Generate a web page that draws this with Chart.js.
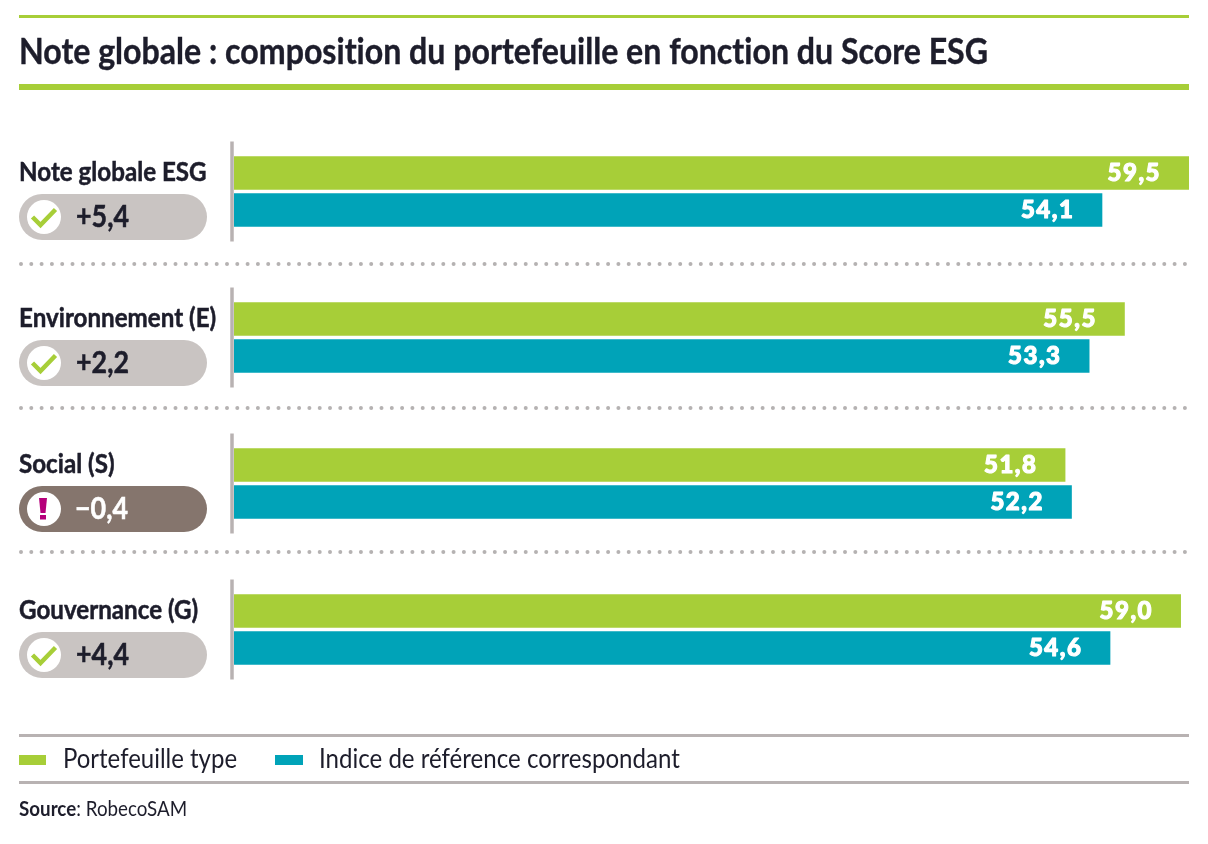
<!DOCTYPE html>
<html lang="fr">
<head>
<meta charset="utf-8">
<title>Note globale ESG</title>
<script src="https://cdn.jsdelivr.net/npm/chart.js@4"></script>
<style>
  html, body { margin: 0; background: #fff; }
  #page { position: relative; width: 1208px; height: 844px; overflow: hidden; color: #1d1d2b;
    font-family: Lato, sans-serif; font-variant-ligatures: none; }
  #page canvas { position: absolute; left: 0; top: 0; }
  .rule { position: absolute; left: 19px; width: 1170px; }
  .fit { position: absolute; white-space: nowrap; transform-origin: 0 50%; }
  #title { left: 19px; top: 28px; font-size: 36px; font-weight: bold; -webkit-text-stroke: 0.4px #1d1d2b; }
  .swatch { position: absolute; top: 755px; height: 10px; }
  .legend-text { top: 741px; font-size: 27px; }
  #source { left: 19px; top: 795px; font-size: 21px; }
</style>
</head>
<body>
<div id="page">
  <canvas id="esgChart" width="1208" height="844"></canvas>
  <div class="rule" style="top:15px;height:3px;background:#a7ce38"></div>
  <div class="fit" id="title" data-w="969">Note globale : composition du portefeuille en fonction du Score ESG</div>
  <div class="rule" style="top:84px;height:6px;background:#a7ce38"></div>
  <div class="rule" style="top:734px;height:3px;background:#b8b2b2"></div>
  <div class="swatch" style="left:19px;width:27px;background:#a7ce38"></div>
  <div class="fit legend-text" id="legendA" data-w="174" style="left:63px"></div>
  <div class="swatch" style="left:275px;width:28px;background:#00a3b8"></div>
  <div class="fit legend-text" id="legendB" data-w="361" style="left:319px"></div>
  <div class="rule" style="top:781px;height:3px;background:#b8b2b2"></div>
  <div class="fit" id="source" data-w="168"><b>Source</b>: RobecoSAM</div>
</div>
<script>
const categories = ['Note globale ESG', 'Environnement (E)', 'Social (S)', 'Gouvernance (G)'];
const seriesNames = ['Portefeuille type', 'Indice de référence correspondant'];
const portefeuille = [59.5, 55.5, 51.8, 59.0];
const indice = [54.1, 53.3, 52.2, 54.6];
const ecarts = ['+5,4', '+2,2', '−0,4', '+4,4'];

const GREEN = '#a7ce38';
const TEAL = '#00a3b8';
const INK = '#1d1d2b';
const NARROW = 0.895; // the original face is condensed, Lato is squeezed to match
const separators = [264, 408, 552];

document.getElementById('legendA').textContent = seriesNames[0];
document.getElementById('legendB').textContent = seriesNames[1];

// squeeze the html texts to the width they have in the original
function fitTexts() {
  document.querySelectorAll('.fit').forEach(el => {
    el.style.transform = 'scaleX(' + el.dataset.w / el.offsetWidth + ')';
  });
}
fitTexts();
document.fonts.ready.then(fitTexts);

function narrowText(ctx, txt, x, y) {
  ctx.save();
  ctx.translate(x, y);
  ctx.scale(NARROW, 1);
  ctx.fillText(txt, 0, 0);
  ctx.lineWidth = 0.5;
  ctx.strokeStyle = ctx.fillStyle;
  ctx.strokeText(txt, 0, 0);
  ctx.restore();
}

// axis segments, dotted separators, category names and the pills on the left
const decorations = {
  id: 'decorations',
  beforeDatasetsDraw(chart) {
    const ctx = chart.ctx;
    const y = chart.scales.y;
    ctx.save();

    ctx.strokeStyle = '#b8b2b2';
    ctx.lineWidth = 3.5;
    categories.forEach((c, i) => {
      const cy = y.getPixelForValue(i);
      ctx.beginPath();
      ctx.moveTo(232, cy - 50);
      ctx.lineTo(232, cy + 50);
      ctx.stroke();
    });

    ctx.strokeStyle = '#b5b2b2';
    ctx.lineWidth = 4;
    ctx.lineCap = 'round';
    ctx.setLineDash([0, 10.3]);
    separators.forEach(sy => {
      ctx.beginPath();
      ctx.moveTo(21, sy);
      ctx.lineTo(1189, sy);
      ctx.stroke();
    });
    ctx.setLineDash([]);
    ctx.lineCap = 'butt';

    ctx.textAlign = 'left';
    ctx.textBaseline = 'middle';

    categories.forEach((c, i) => {
      ctx.fillStyle = INK;
      ctx.font = 'bold 27px Lato, sans-serif';
      narrowText(ctx, c, 19, y.getPixelForValue(i) - 19);
    });

    ecarts.forEach((txt, i) => {
      const cy = y.getPixelForValue(i) + 25.5;
      const negative = txt.startsWith('−');
      ctx.fillStyle = negative ? '#85756d' : '#c9c4c2';
      ctx.beginPath();
      ctx.roundRect(19, cy - 23, 188, 46, 23);
      ctx.fill();

      ctx.fillStyle = '#fff';
      ctx.beginPath();
      ctx.arc(44, cy, 17, 0, Math.PI * 2);
      ctx.fill();

      if (negative) {
        ctx.fillStyle = '#b5007a';
        ctx.beginPath();
        ctx.moveTo(39, cy - 11);
        ctx.lineTo(47, cy - 11);
        ctx.lineTo(45.5, cy + 4);
        ctx.lineTo(40.5, cy + 4);
        ctx.closePath();
        ctx.fill();
        ctx.fillRect(40, cy + 6, 6, 4.5);
      } else {
        ctx.strokeStyle = GREEN;
        ctx.lineWidth = 4.5;
        ctx.lineJoin = 'miter';
        ctx.beginPath();
        ctx.moveTo(32.5, cy);
        ctx.lineTo(40.5, cy + 8);
        ctx.lineTo(55.5, cy - 7.5);
        ctx.stroke();
      }

      ctx.fillStyle = negative ? '#fff' : INK;
      ctx.font = 'bold 30px Lato, sans-serif';
      narrowText(ctx, txt, negative ? 75 : 76, cy);
    });
    ctx.restore();
  }
};

// value printed in white inside the end of each bar
const barValues = {
  id: 'barValues',
  afterDatasetsDraw(chart) {
    const ctx = chart.ctx;
    ctx.save();
    ctx.fillStyle = '#fff';
    ctx.strokeStyle = '#fff';
    ctx.lineWidth = 1.1;
    ctx.lineJoin = 'round';
    ctx.font = '900 24px Lato, sans-serif';
    ctx.letterSpacing = '1.5px';
    ctx.textAlign = 'right';
    ctx.textBaseline = 'middle';
    chart.data.datasets.forEach((ds, d) => {
      chart.getDatasetMeta(d).data.forEach((bar, i) => {
        const txt = ds.data[i].toFixed(1).replace('.', ',');
        ctx.fillText(txt, bar.x - 28, bar.y);
        ctx.strokeText(txt, bar.x - 28, bar.y);
      });
    });
    ctx.restore();
  }
};

new Chart(document.getElementById('esgChart'), {
  type: 'bar',
  data: {
    labels: categories,
    datasets: [
      { label: seriesNames[0], data: portefeuille, backgroundColor: GREEN },
      { label: seriesNames[1], data: indice, backgroundColor: TEAL }
    ]
  },
  options: {
    indexAxis: 'y',
    responsive: false,
    animation: false,
    devicePixelRatio: 1,
    categoryPercentage: 74 / 146,
    barPercentage: 0.905,
    layout: { padding: { left: 19, right: 19, top: 118.5, bottom: 141.5 } },
    scales: {
      x: { display: false, min: 0, max: 59.5 },
      y: {
        afterFit(axis) { axis.width = 215; },
        border: { display: false },
        grid: { display: false },
        ticks: { display: false }
      }
    },
    plugins: {
      legend: { display: false },
      title: { display: false },
      tooltip: { enabled: false }
    }
  },
  plugins: [decorations, barValues]
});
</script>
</body>
</html>
